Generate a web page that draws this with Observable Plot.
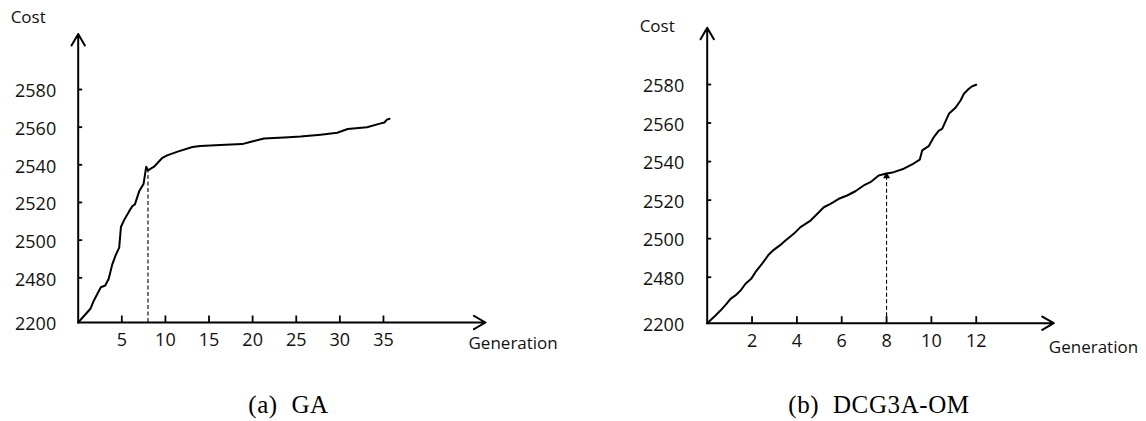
<!DOCTYPE html>
<html>
<head>
<meta charset="utf-8">
<script src="https://cdn.jsdelivr.net/npm/d3@7"></script>
<script src="https://cdn.jsdelivr.net/npm/@observablehq/plot@0.6"></script>
<style>
html, body { margin: 0; padding: 0; background: #fff; }
#wrap { position: relative; width: 1146px; height: 421px; overflow: hidden; background: #fff; }
.panel { position: absolute; top: 0; }
.cap { position: absolute; top: 391px; font-family: "Liberation Serif", "DejaVu Serif", serif; font-size: 25px; line-height: 28px; color: #000; white-space: pre; transform: translateX(-50%); letter-spacing: 0.6px; }
</style>
</head>
<body>
<div id="wrap"></div>
<script>
// ---- data ----
const leftGen  = [0, 1.4, 1.8, 2.4, 2.6, 3.1, 3.5, 3.9, 4.3, 4.7, 4.9, 5.3, 5.8, 6.2, 6.5, 7.0, 7.5, 7.8, 8.0, 8.7, 9.6, 10.2, 11.4, 13.1, 14.0, 16.3, 18.8, 19.6, 21.3, 23.6, 25.5, 27.8, 29.7, 30.9, 33.1, 34.7, 35.1, 35.4, 35.7];
const leftCost = [2200, 2286, 2338, 2400, 2421, 2432, 2474, 2487, 2492, 2496, 2507, 2511, 2515, 2518, 2519, 2526, 2530, 2539, 2537, 2539, 2543.5, 2545, 2547, 2549.5, 2550, 2550.5, 2551, 2552, 2554, 2554.5, 2555, 2556, 2557, 2559, 2560, 2562, 2562.5, 2564, 2564.5];

const rightGen  = [0, 0.37, 0.59, 0.86, 1.04, 1.26, 1.49, 1.71, 1.96, 2.15, 2.45, 2.75, 2.97, 3.24, 3.49, 3.86, 4.16, 4.61, 4.98, 5.2, 5.5, 5.87, 6.24, 6.61, 6.98, 7.28, 7.65, 7.95, 8.32, 8.77, 9.14, 9.48, 9.59, 9.88, 10.11, 10.33, 10.48, 10.78, 11.07, 11.3, 11.45, 11.67, 11.82, 12.0];
const rightCost = [2200, 2247, 2277, 2318, 2348, 2369, 2399, 2440, 2470, 2482.6, 2487, 2491.8, 2494.2, 2496.5, 2499, 2502.5, 2506, 2509.4, 2513.7, 2516.3, 2518.1, 2520.7, 2522.4, 2524.6, 2527.6, 2529.3, 2532.8, 2533.7, 2534.5, 2536.3, 2538.5, 2541, 2545.8, 2548, 2552.7, 2556.1, 2557, 2564.8, 2567.9, 2571.7, 2575.2, 2577.8, 2579.1, 2579.9];

const yTicks = [2200, 2480, 2500, 2520, 2540, 2560, 2580];
const xTicksLeft = [5, 10, 15, 20, 25, 30, 35];
const xTicksRight = [2, 4, 6, 8, 10, 12];
const markGen = 8;
const markCostLeft = 2537;
const markCostRight = 2533.5;
const yAxisTop = 2609.5;
const xAxisEndLeft = 46.7;
const xAxisEndRight = 15.46;
const captions = ["(a)  GA", "(b)  DCG3A-OM"];
const yLabel = "Cost";
const xLabel = "Generation";

// ---- drawing ----
const fmt = d => String(d);
const W = 573, H = 360;

function panel(cfg) {
  const yTickMarks = yTicks.filter(v => v > yTicks[0]);
  const yDomain = [2200, 2480, 2580];
  // same scales as Plot's, used only to express tick lengths (px) in data units
  const ys = d3.scaleLinear(yDomain, cfg.yRange);
  const xs = d3.scaleLinear([0, cfg.xEnd], [cfg.marginLeft, W - cfg.marginRight]);
  const xTickTop = ys.invert(ys(2200) - 7);
  const yTickEnd = xs.invert(xs(0) + 4);
  const xTickRows = cfg.xTicks.map(v => ({ g: v, c1: 2200, c2: xTickTop }));
  const yTickRows = yTickMarks.map(v => ({ c: v, g1: 0, g2: yTickEnd }));
  return Plot.plot({
    width: W,
    height: H,
    marginLeft: cfg.marginLeft,
    marginRight: cfg.marginRight,
    marginTop: 20,
    marginBottom: cfg.marginBottom,
    style: { fontFamily: "'Open Sans', sans-serif", fontSize: "18px", color: "#000", background: "transparent", overflow: "visible" },
    x: { type: "linear", domain: [0, cfg.xEnd], label: null },
    // broken axis: 2200 sits at the origin, 2480..2580 evenly spaced
    y: { type: "linear", domain: yDomain, range: cfg.yRange, label: null },
    marks: [
      // inward y tick marks
      Plot.link(yTickRows, { x1: "g1", x2: "g2", y1: "c", y2: "c", stroke: "#000", strokeWidth: 1.8 }),
      // y tick labels
      Plot.axisY({ ticks: yTicks, tickSize: 0, tickPadding: cfg.yPad, dy: 2, tickFormat: fmt, label: null, fill: "#111" }),
      // upward x tick marks
      Plot.link(xTickRows, { x1: "g", x2: "g", y1: "c1", y2: "c2", stroke: "#000", strokeWidth: 1.8 }),
      // x tick labels
      Plot.axisX({ ticks: cfg.xTicks, tickSize: 0, tickPadding: cfg.xPad, tickFormat: fmt, label: null, fill: "#111" }),
      // axes with arrowheads
      Plot.arrow([0], { x1: () => 0, y1: () => 2200, x2: () => cfg.xEnd, y2: () => 2200, strokeWidth: 2, headLength: 10, headAngle: 60, stroke: "#000" }),
      Plot.arrow([0], { x1: () => 0, y1: () => 2200, x2: () => 0, y2: () => yAxisTop, strokeWidth: 2, headLength: 10, headAngle: 60, stroke: "#000" }),
      // dashed marker at generation 8
      Plot.ruleX([markGen], { x: d => d, y1: () => 2200, y2: () => cfg.markCost, strokeDasharray: "4,2.5", strokeWidth: 1.1, stroke: "#000" }),
      ...(cfg.markArrow ? [Plot.dot([markGen], { x: d => d, y: () => cfg.markCost, symbol: "triangle", r: 2.6, fill: "#000", stroke: null, dy: 2 })] : []),
      // cost curve
      Plot.line(cfg.gen, { x: cfg.gen, y: cfg.cost, stroke: "#000", strokeWidth: 2, strokeLinejoin: "round", strokeLinecap: "round" }),
      // axis titles
      Plot.text([yLabel], { x: () => 0, y: () => yAxisTop, dx: cfg.costDx, dy: cfg.costDy, fontSize: 17, textAnchor: "middle", fill: "#111" }),
      Plot.text([xLabel], { x: () => cfg.xEnd, y: () => 2200, dx: cfg.genDx, dy: cfg.genDy, fontSize: 17, textAnchor: "start", fill: "#111" })
    ]
  });
}

const wrap = document.getElementById("wrap");

const left = panel({
  gen: leftGen, cost: leftCost, xTicks: xTicksLeft, xEnd: xAxisEndLeft,
  marginLeft: 77.7, marginRight: 88, marginBottom: 38,
  yRange: [322, 277.3, 89],
  yPad: 22, xPad: 11,
  markCost: markCostLeft, markArrow: false,
  costDx: -50, costDy: -16, genDx: -17, genDy: 21
});
left.classList.add("panel");
left.style.left = "0px";
wrap.appendChild(left);

const right = panel({
  gen: rightGen, cost: rightCost, xTicks: xTicksRight, xEnd: xAxisEndRight,
  marginLeft: 133.7, marginRight: 92.7, marginBottom: 37.3,
  yRange: [322.7, 276.7, 84],
  yPad: 23, xPad: 11,
  markCost: markCostRight, markArrow: true,
  costDx: -50, costDy: -1, genDx: -5, genDy: 24
});
right.classList.add("panel");
right.style.left = "573px";
wrap.appendChild(right);

const capCenters = [288.5, 879];
captions.forEach((t, i) => {
  const d = document.createElement("div");
  d.className = "cap";
  d.textContent = t;
  d.style.left = capCenters[i] + "px";
  wrap.appendChild(d);
});
</script>
</body>
</html>
